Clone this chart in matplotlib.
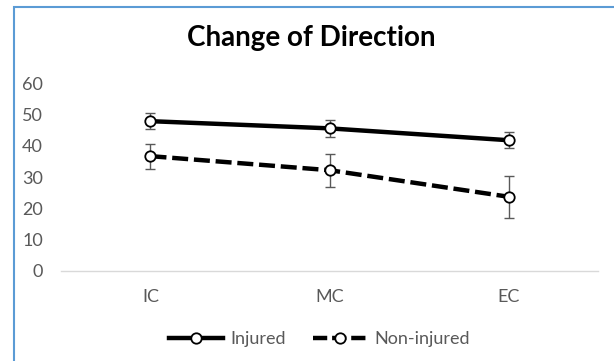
import numpy as np
import matplotlib
matplotlib.use("Agg")
import matplotlib.pyplot as plt
from matplotlib.patches import Rectangle
from matplotlib.lines import Line2D

plt.rcParams['font.family'] = ['Lato', 'DejaVu Sans']

# group means and error bar half-widths
phases = ['IC', 'MC', 'EC']
injured = [47.9, 45.6, 41.8]
injured_err = [2.5, 2.7, 2.5]
non_injured = [36.7, 32.2, 23.7]
non_injured_err = [4.0, 5.3, 6.7]
y_ticks = [0, 10, 20, 30, 40, 50, 60]

fig = plt.figure(figsize=(6.14, 3.61), dpi=100)
ax = fig.add_axes([0.0993, 0.250, 0.8747, 0.519])

x = np.arange(len(phases))
grey = '#595959'

ax.errorbar(x, injured, yerr=injured_err, fmt='none', ecolor=grey,
            elinewidth=1.0, capsize=3.5, capthick=1.0, zorder=2)
ax.errorbar(x, non_injured, yerr=non_injured_err, fmt='none', ecolor=grey,
            elinewidth=1.0, capsize=3.5, capthick=1.0, zorder=2)

ax.plot(x, injured, color='black', lw=3.2, marker='o', ms=7.5,
        mfc='white', mec='black', mew=1.3, zorder=3)
ax.plot(x, non_injured, color='black', lw=3.2, marker='o', ms=7.5,
        mfc='white', mec='black', mew=1.3, dashes=(3.6, 1.3), zorder=3)

ax.set_xlim(-0.5, len(phases) - 0.5)
ax.set_ylim(0, 60)
ax.set_xticks(x)
ax.set_xticklabels(phases)
ax.set_yticks(y_ticks)
ax.tick_params(axis='both', length=0, labelsize=13, labelcolor=grey)
ax.tick_params(axis='y', pad=13)
ax.tick_params(axis='x', pad=13)
for side in ['top', 'right', 'left']:
    ax.spines[side].set_visible(False)
ax.spines['bottom'].set_color('#d9d9d9')
ax.spines['bottom'].set_linewidth(1.0)

fig.text(0.507, 0.896, 'Change of Direction', ha='center', va='center',
         fontsize=20, fontweight='bold', color='black')

handles = [
    Line2D([], [], color='black', lw=3.2, marker='o', ms=7.5, mfc='white',
           mec='black', mew=1.3),
    Line2D([], [], color='black', lw=3.2, marker='o', ms=7.5, mfc='white',
           mec='black', mew=1.3, dashes=(3.2, 1.1)),
]
fig.legend(handles, ['Injured', 'Non-injured'], loc='center',
           bbox_to_anchor=(0.52, 0.061), ncol=2, frameon=False,
           fontsize=13, labelcolor=grey, handlelength=3.0,
           handletextpad=0.4, columnspacing=1.5)

# chart frame, running off the right and bottom edges
fig.patches.append(Rectangle((14 / 614, -0.1), 1.0, 1.0 - 7 / 361 + 0.1,
                             transform=fig.transFigure, fill=False,
                             edgecolor='#5b9bd5', lw=1.5))

fig.savefig('out.png', dpi=100, facecolor='white')
